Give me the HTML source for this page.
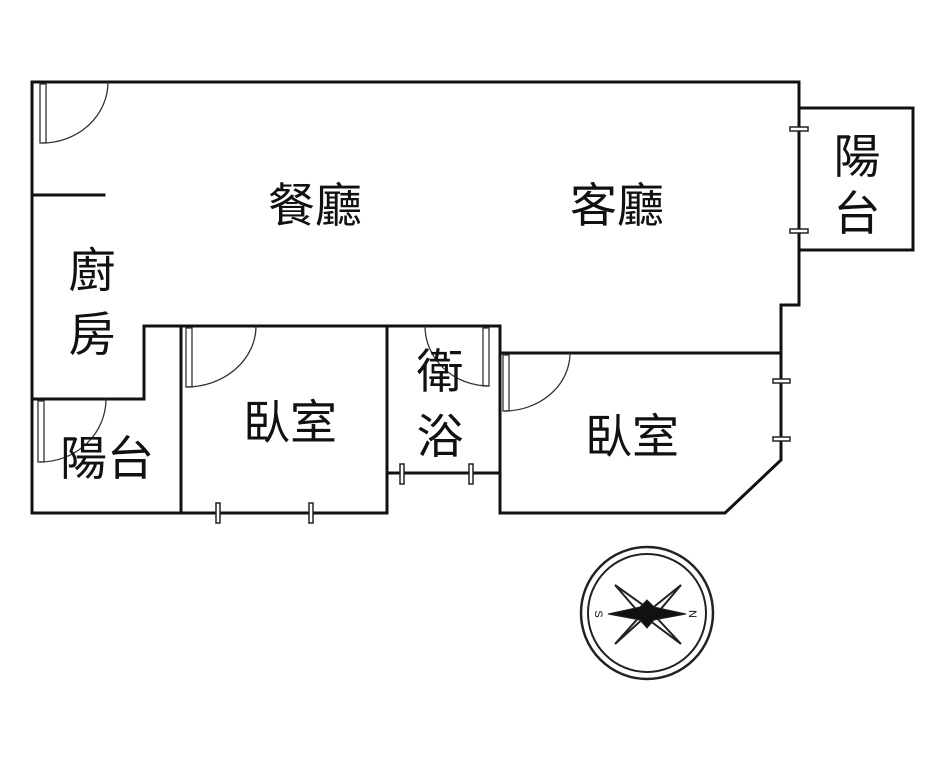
<!DOCTYPE html>
<html><head><meta charset="utf-8"><style>
html,body{margin:0;padding:0;background:#fff;width:941px;height:767px;overflow:hidden}
text{font-family:"Liberation Sans","Noto Sans CJK TC",sans-serif;font-size:47px;fill:#111}
</style></head><body>
<svg width="941" height="767" viewBox="0 0 941 767" xmlns="http://www.w3.org/2000/svg">
<g fill="none" stroke="#111" stroke-width="3" stroke-linecap="square">
<path d="M32 82 H799 V305 H781 V460 L725 513 H500"/>
<path d="M32 82 V513 H387"/>
<path d="M32 195 H104"/>
<path d="M32 399 H144 V326 H387"/>
<path d="M181 326 V513"/>
<path d="M387 326 V513"/>
<path d="M387 326 H500 V513"/>
<path d="M387 473 H500"/>
<path d="M500 353 H781"/>
<path d="M799 108 H913 V250 H799"/>
</g>
<g fill="none" stroke="#333" stroke-width="1.3">
<rect x="40" y="84" width="6" height="59"/>
<path d="M108 82 A66 61 0 0 1 42 143"/>
<rect x="38" y="401" width="6" height="61"/>
<path d="M106 399 A66 63 0 0 1 40 462"/>
<rect x="186" y="328" width="6" height="59"/>
<path d="M256 326 A70 61 0 0 1 186 387"/>
<rect x="483" y="328" width="6" height="58"/>
<path d="M425 326 A64 60 0 0 0 489 386"/>
<rect x="503" y="355" width="6" height="56"/>
<path d="M570 353 A66 58 0 0 1 504 411"/>
</g>
<g fill="#fff" stroke="#222" stroke-width="1.5">
<rect x="790" y="127" width="18" height="4"/>
<rect x="790" y="229" width="18" height="4"/>
<rect x="773" y="379" width="17" height="4"/>
<rect x="773" y="437" width="17" height="4"/>
<rect x="400" y="464" width="4" height="20"/>
<rect x="469" y="464" width="4" height="20"/>
<rect x="216" y="503" width="4" height="20"/>
<rect x="309" y="503" width="4" height="20"/>
</g>
<g text-anchor="middle">
<text x="315" y="222">餐廳</text>
<text x="617" y="222">客廳</text>
<text x="92" y="287">廚</text>
<text x="92" y="351">房</text>
<text x="107" y="475">陽台</text>
<text x="290" y="439">臥室</text>
<text x="440" y="388">衛</text>
<text x="440" y="453">浴</text>
<text x="632" y="453">臥室</text>
<text x="857" y="173">陽</text>
<text x="857" y="230">台</text>
</g>
<g stroke="#222" fill="none">
<circle cx="647" cy="613" r="66" stroke-width="2.5"/>
<circle cx="647" cy="613" r="59" stroke-width="2"/>
<path d="M615 585 L650 610 L681 585 L655 616 L681 644 L645 617 L615 644 L641 615 Z" stroke-width="2" fill="#fff"/>
<path d="M608 614 L640 607 L647 600 L654 607 L686 614 L654 620 L647 628 L640 620 Z" fill="#111" stroke-width="1"/>
</g>
<text x="598" y="614" style="font-size:11px" transform="rotate(90 598 614)" text-anchor="middle" dominant-baseline="middle">S</text>
<text x="692" y="614" style="font-size:11px" transform="rotate(90 692 614)" text-anchor="middle" dominant-baseline="middle">N</text>
</svg>
</body></html>
